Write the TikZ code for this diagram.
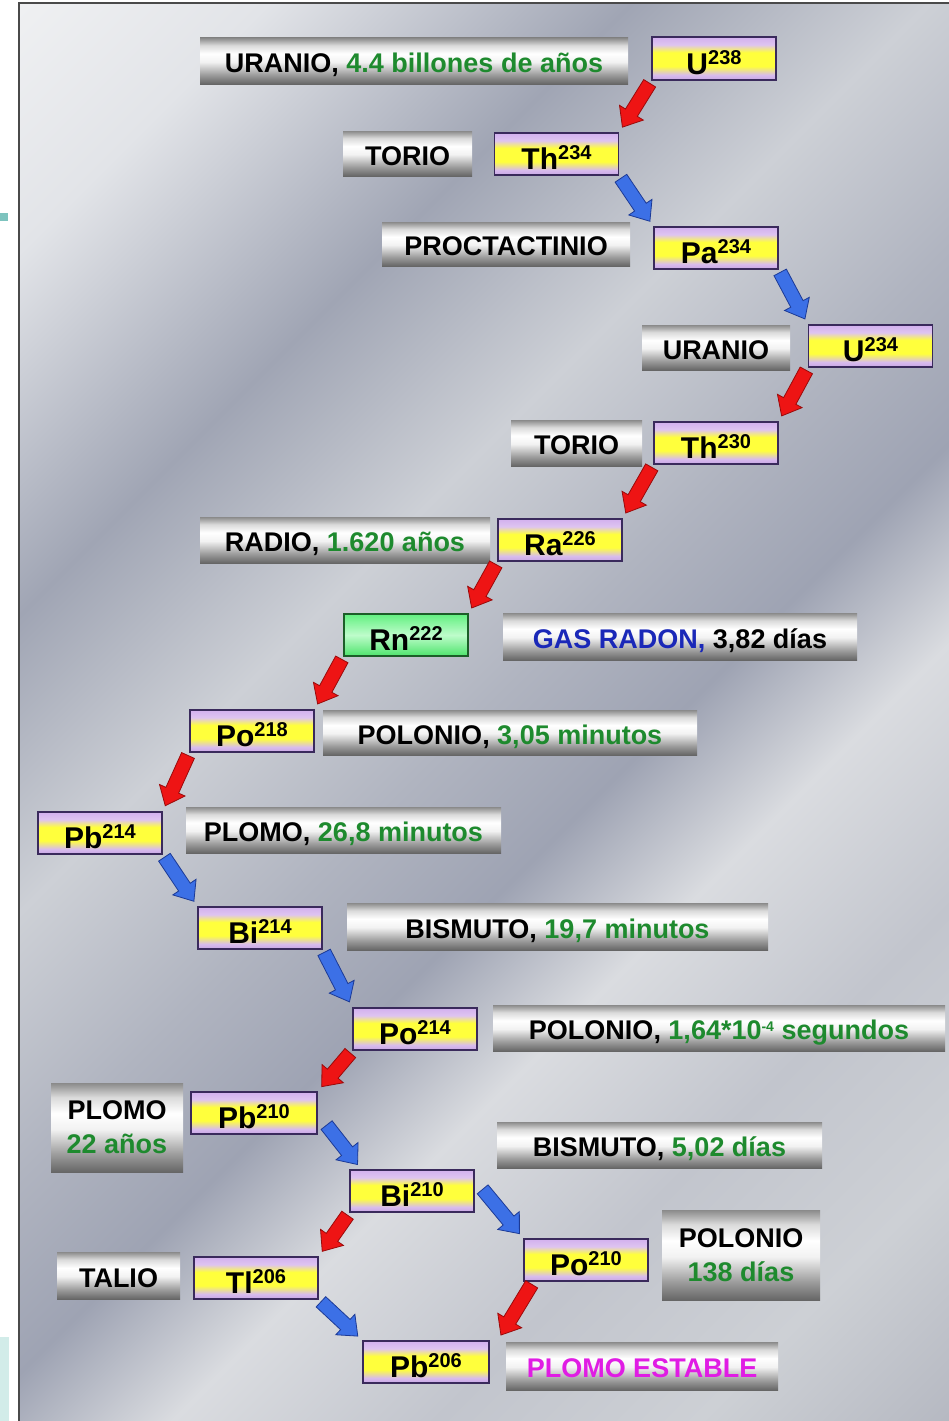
\documentclass[tikz,border=0pt]{standalone}
\usepackage{fontspec}
\setmainfont{Liberation Sans}
\usetikzlibrary{calc}
\definecolor{tgreen}{HTML}{1E8A2E}
\definecolor{tblue}{HTML}{1A28B8}
\definecolor{tmag}{HTML}{E01CE4}
% label box shading
\definecolor{lb0}{HTML}{666666}
\definecolor{lb1}{HTML}{9C9C9C}
\definecolor{lb2}{HTML}{F2F2F2}
\definecolor{lb3}{HTML}{FFFFFF}
\definecolor{lb4}{HTML}{DADADA}
\definecolor{lb5}{HTML}{8A8A8A}
\pgfdeclareverticalshading{lblshade}{100bp}{color(0bp)=(lb0); color(25bp)=(lb0); color(35bp)=(lb1); color(49bp)=(lb2); color(58bp)=(lb3); color(67bp)=(lb4); color(75bp)=(lb5); color(100bp)=(lb5)}
% isotope box shading
\definecolor{is0}{HTML}{C8A6E6}
\definecolor{is1}{HTML}{D8BCEC}
\definecolor{is2}{HTML}{FFFF3C}
\definecolor{is3}{HTML}{DEC4F0}
\definecolor{is4}{HTML}{D2B0EE}
\pgfdeclareverticalshading{isoshade}{100bp}{color(0bp)=(is0); color(25bp)=(is0); color(31bp)=(is1); color(41bp)=(is2); color(57bp)=(is2); color(66bp)=(is3); color(75bp)=(is4); color(100bp)=(is4)}
\definecolor{isoborder}{HTML}{3A2A5C}
% radon box shading
\definecolor{rn0}{HTML}{4EE46C}
\definecolor{rn1}{HTML}{BEFCCB}
\definecolor{rn2}{HTML}{62F080}
\pgfdeclareverticalshading{rnshade}{100bp}{color(0bp)=(rn0); color(25bp)=(rn0); color(50bp)=(rn1); color(75bp)=(rn2); color(100bp)=(rn2)}
\definecolor{rnborder}{HTML}{1C5E28}
% background
\definecolor{bg0}{HTML}{EFF0F2}
\definecolor{bg1}{HTML}{E2E4E8}
\definecolor{bg2}{HTML}{A0A5B4}
\definecolor{bg3}{HTML}{CDD0D6}
\definecolor{bg4}{HTML}{B0B4C0}
\definecolor{bg5}{HTML}{9EA3B3}
\definecolor{bg6}{HTML}{DADCE0}
\definecolor{bg7}{HTML}{C2C5CD}
\definecolor{bg8}{HTML}{CDD0D5}
\definecolor{bg9}{HTML}{B6B9C2}
\pgfdeclarehorizontalshading{bgmetal}{100bp}{color(0bp)=(bg0); color(14.6bp)=(bg0); color(22bp)=(bg1); color(33bp)=(bg2); color(42bp)=(bg3); color(50bp)=(bg4); color(56bp)=(bg5); color(62bp)=(bg6); color(70bp)=(bg7); color(78bp)=(bg8); color(85.4bp)=(bg9); color(100bp)=(bg9)}
% arrows
\definecolor{ared}{HTML}{EE1414}
\definecolor{aredd}{HTML}{9A0A0A}
\definecolor{bblue}{HTML}{3C70E6}
\definecolor{bblued}{HTML}{1C3A96}
\definecolor{tealmark}{HTML}{7DC3BE}
\definecolor{teallight}{HTML}{D2ECE9}
\definecolor{framec}{HTML}{4A4A4A}

\newcommand\isup[1]{\raisebox{10pt}{\fontsize{20}{20}\selectfont #1}}
\newcommand\lsup[1]{\raisebox{8pt}{\fontsize{14}{14}\selectfont #1}}

\tikzset{
  lbl/.style={shading=lblshade, inner sep=0pt, font=\fontsize{27}{30}\selectfont\bfseries, text height=23pt, text depth=0pt},
  lbltwo/.style={shading=lblshade, inner sep=0pt, font=\fontsize{27}{34}\selectfont\bfseries, align=center},
  iso/.style={shading=isoshade, draw=isoborder, line width=1.5pt, minimum width=124pt, minimum height=42pt, inner sep=0pt, font=\fontsize{30}{32}\selectfont\bfseries, text height=31.5pt, text depth=0pt},
  rnbox/.style={iso, shading=rnshade, draw=rnborder},
  fat/.style={to path={let \p1=(\tikztostart), \p2=(\tikztotarget),
      \n1={atan2(\y2-\y1,\x2-\x1)}, \n2={veclen(\x2-\x1,\y2-\y1)-6pt}, \n3={\n2-17pt} in
      ($(\p1)+(\n1:3pt)+(\n1+90:7pt)$) -- ($(\p1)+(\n1:\n3)+(\n1+90:7pt)$)
      -- ($(\p1)+(\n1:\n3)+(\n1+90:14pt)$) -- ($(\p1)+(\n1:\n2)$)
      -- ($(\p1)+(\n1:\n3)+(\n1-90:14pt)$) -- ($(\p1)+(\n1:\n3)+(\n1-90:7pt)$)
      -- ($(\p1)+(\n1:3pt)+(\n1-90:7pt)$) -- cycle}},
  redarr/.style={fat, fill=ared, draw=aredd, line width=0.8pt, line join=miter},
  bluearr/.style={fat, fill=bblue, draw=bblued, line width=0.8pt, line join=miter},
}

\begin{document}
\begin{tikzpicture}[x=1pt,y=-1pt]
\useasboundingbox (0,0) rectangle (949,1421);
% page and panel
\fill[white] (0,0) rectangle (949,1421);
\fill[tealmark] (0,213) rectangle (8,221);
\fill[teallight] (0,1337) rectangle (9,1421);
\shade[shading=bgmetal, shading angle=-45] (19,3) rectangle (949,1421);
\draw[framec, line width=2pt] (19,1421) -- (19,3) -- (949,3);

% label boxes
\node[lbl, minimum width=428pt, minimum height=46pt] (L1) at (414,61) {URANIO, \textcolor{tgreen}{4.4 billones de años}};
\node[lbl, minimum width=129pt, minimum height=45pt] (L2) at (407.5,153.5) {TORIO};
\node[lbl, minimum width=248pt, minimum height=44pt] (L3) at (506,244) {PROCTACTINIO};
\node[lbl, minimum width=148pt, minimum height=45pt] (L4) at (716,347.5) {URANIO};
\node[lbl, minimum width=131pt, minimum height=46pt] (L5) at (576.5,443) {TORIO};
\node[lbl, minimum width=290pt, minimum height=46pt] (L6) at (345,540) {RADIO, \textcolor{tgreen}{1.620 años}};
\node[lbl, minimum width=354pt, minimum height=47pt] (L7) at (680,636.5) {\textcolor{tblue}{GAS RADON,} 3,82 días};
\node[lbl, minimum width=374pt, minimum height=45pt] (L8) at (510,732.5) {POLONIO, \textcolor{tgreen}{3,05 minutos}};
\node[lbl, minimum width=315pt, minimum height=46pt] (L9) at (343.5,830) {PLOMO, \textcolor{tgreen}{26,8 minutos}};
\node[lbl, minimum width=421pt, minimum height=47pt] (L10) at (557.5,926.5) {BISMUTO, \textcolor{tgreen}{19,7 minutos}};
\node[lbl, minimum width=452pt, minimum height=46pt] (L11) at (719,1028) {POLONIO, \textcolor{tgreen}{1,64*10\lsup{-4} segundos}};
\node[lbltwo, minimum width=132pt, minimum height=89pt] (L12) at (117,1127.5) {PLOMO\\\textcolor{tgreen}{22 años}};
\node[lbl, minimum width=325pt, minimum height=46pt] (L13) at (659.5,1145) {BISMUTO, \textcolor{tgreen}{5,02 días}};
\node[lbl, minimum width=123pt, minimum height=47pt] (L14) at (118.5,1275.5) {TALIO};
\node[lbltwo, minimum width=158pt, minimum height=90pt] (L15) at (741,1255) {POLONIO\\\textcolor{tgreen}{138 días}};
\node[lbl, minimum width=272pt, minimum height=48pt] (L16) at (642,1366) {\textcolor{tmag}{PLOMO ESTABLE}};

% isotope boxes
\node[iso, minimum height=43pt] (U238) at (714,58.5) {U\isup{238}};
\node[iso] (Th234) at (556.5,154) {Th\isup{234}};
\node[iso] (Pa234) at (716,248) {Pa\isup{234}};
\node[iso] (U234) at (870.5,346) {U\isup{234}};
\node[iso] (Th230) at (716,443) {Th\isup{230}};
\node[iso] (Ra226) at (560,540) {Ra\isup{226}};
\node[rnbox] (Rn222) at (406,635) {Rn\isup{222}};
\node[iso] (Po218) at (252,731) {Po\isup{218}};
\node[iso] (Pb214) at (100,833) {Pb\isup{214}};
\node[iso] (Bi214) at (260,928) {Bi\isup{214}};
\node[iso] (Po214) at (415,1029) {Po\isup{214}};
\node[iso, minimum width=126pt] (Pb210) at (254,1113) {Pb\isup{210}};
\node[iso] (Bi210) at (412,1191) {Bi\isup{210}};
\node[iso] (Tl206) at (256,1278) {Tl\isup{206}};
\node[iso] (Po210) at (586,1260) {Po\isup{210}};
\node[iso, minimum width=126pt] (Pb206) at (426,1362) {Pb\isup{206}};

% decay arrows
\draw[redarr] (U238.south west) to (Th234.north east);
\draw[bluearr] (Th234.south east) to (Pa234.north west);
\draw[bluearr] (Pa234.south east) to (U234.north west);
\draw[redarr] (U234.south west) to (Th230.north east);
\draw[redarr] (Th230.south west) to (Ra226.north east);
\draw[redarr] (Ra226.south west) to (Rn222.north east);
\draw[redarr] (Rn222.south west) to (Po218.north east);
\draw[redarr] (Po218.south west) to (Pb214.north east);
\draw[bluearr] (Pb214.south east) to (Bi214.north west);
\draw[bluearr] (Bi214.south east) to (Po214.north west);
\draw[redarr] (Po214.south west) to (Pb210.north east);
\draw[bluearr] ([xshift=7pt,yshift=12pt]Pb210.south east) to ([xshift=12pt]Bi210.north west);
\draw[redarr] (Bi210.south west) to (Tl206.north east);
\draw[bluearr] ([xshift=6pt,yshift=4pt]Bi210.east) to (Po210.north west);
\draw[bluearr] (Tl206.south east) to (Pb206.north west);
\draw[redarr] ([xshift=10pt]Po210.south west) to ([xshift=8pt]Pb206.north east);
\end{tikzpicture}
\end{document}
